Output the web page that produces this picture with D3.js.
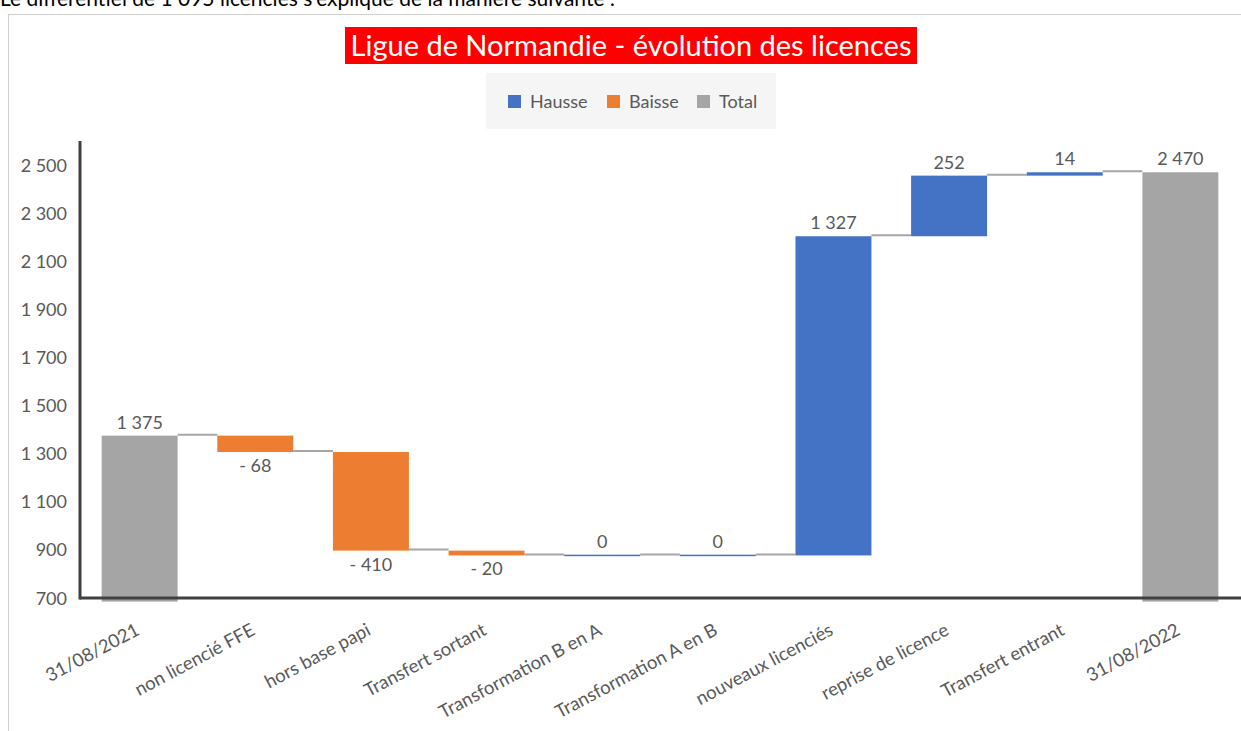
<!DOCTYPE html>
<html lang="fr">
<head>
<meta charset="utf-8">
<title>Ligue de Normandie</title>
<script src="https://cdn.jsdelivr.net/npm/d3@7"></script>
<style>
  html, body { margin: 0; padding: 0; background: #fff; }
  svg { display: block; font-family: Lato, "Open Sans", sans-serif; }
</style>
</head>
<body>
<script>
// data
var categories = ["31/08/2021", "non licencié FFE", "hors base papi", "Transfert sortant",
  "Transformation B en A", "Transformation A en B", "nouveaux licenciés",
  "reprise de licence", "Transfert entrant", "31/08/2022"];
var values = [1375, -68, -410, -20, 0, 0, 1327, 252, 14, 2470];
var kinds = ["Total", "Baisse", "Baisse", "Baisse", "Hausse", "Hausse", "Hausse", "Hausse", "Hausse", "Total"];
var yTicks = [700, 900, 1100, 1300, 1500, 1700, 1900, 2100, 2300, 2500];
var legendItems = ["Hausse", "Baisse", "Total"];

var colors = { Hausse: "#4472C4", Baisse: "#ED7D31", Total: "#A5A5A5" };
var textCol = "#595959";

var W = 1241, H = 731;
var svg = d3.select("body").append("svg").attr("width", W).attr("height", H);

var loc = d3.formatLocale({ decimal: ",", thousands: "\u00a0", grouping: [3], currency: ["", ""] });
var fmt = loc.format(",d");
function label(v) { return v < 0 ? "- " + fmt(-v) : fmt(v); }

// running totals
var rows = [];
var run = 0;
values.forEach(function (v, i) {
  var r = { cat: categories[i], v: v, kind: kinds[i] };
  if (kinds[i] == "Total") { r.start = 685; r.end = v; run = v; }
  else { r.start = run; run = run + v; r.end = run; }
  r.level = run;
  rows.push(r);
});

// cut-off sentence above the chart frame
svg.append("text")
  .attr("x", 0).attr("y", 6)
  .style("font-size", "21px").attr("fill", "#000")
  .text("Le différentiel de 1 095 licenciés s'explique de la manière suivante :");

// chart frame
svg.append("rect")
  .attr("x", 8.5).attr("y", 14.5).attr("width", W + 10).attr("height", H + 10)
  .attr("fill", "#fff").attr("stroke", "#d0d0d0");

// title
svg.append("rect")
  .attr("x", 345).attr("y", 27).attr("width", 572).attr("height", 37)
  .attr("fill", "#FF0000");
svg.append("text")
  .attr("x", 631).attr("y", 56)
  .attr("text-anchor", "middle")
  .style("font-size", "29px").attr("fill", "#fff")
  .text("Ligue de Normandie - évolution des licences");

// legend
svg.append("rect").attr("x", 486).attr("y", 73).attr("width", 290).attr("height", 56).attr("fill", "#f5f5f5");
var lx = [508, 607, 697];
legendItems.forEach(function (k, i) {
  svg.append("rect").attr("x", lx[i]).attr("y", 95).attr("width", 13).attr("height", 13).attr("fill", colors[k]);
  svg.append("text").attr("x", lx[i] + 22).attr("y", 108)
    .style("font-size", "18px").attr("fill", textCol).text(k);
});

// scales
var x = d3.scaleBand().domain(categories).range([82, 1238]).paddingInner(0.343).paddingOuter(0.17);
var y = d3.scaleLinear().domain([700, 2600]).range([598, 141]);

// y tick labels
svg.append("g").selectAll("text").data(yTicks).enter().append("text")
  .attr("x", 67).attr("y", function (d) { return y(d) + 6.5; })
  .attr("text-anchor", "end")
  .style("font-size", "18px").attr("fill", textCol)
  .text(function (d) { return fmt(d); });

// connectors
svg.append("g").selectAll("line").data(rows.slice(0, -1)).enter().append("line")
  .attr("x1", function (d) { return x(d.cat) + x.bandwidth(); })
  .attr("x2", function (d, i) { return x(categories[i + 1]); })
  .attr("y1", function (d) { return y(d.level) - 1; })
  .attr("y2", function (d) { return y(d.level) - 1; })
  .attr("stroke", "#a6a6a6").attr("stroke-width", 2);

// bars
svg.append("g").selectAll("rect").data(rows).enter().append("rect")
  .attr("x", function (d) { return x(d.cat); })
  .attr("width", x.bandwidth())
  .attr("y", function (d) { return y(Math.max(d.start, d.end)) - (d.v == 0 ? 0.75 : 0); })
  .attr("height", function (d) { return Math.max(1.5, Math.abs(y(d.start) - y(d.end))); })
  .attr("fill", function (d) { return colors[d.kind]; });

// value labels
svg.append("g").selectAll("text").data(rows).enter().append("text")
  .attr("x", function (d) { return x(d.cat) + x.bandwidth() / 2; })
  .attr("y", function (d) {
    if (d.v < 0) return y(Math.min(d.start, d.end)) + 20;
    return y(Math.max(d.start, d.end)) - 7;
  })
  .attr("text-anchor", "middle")
  .style("font-size", "18px").attr("fill", textCol)
  .text(function (d) { return label(d.v); });

// axes lines
svg.append("line").attr("x1", 80).attr("x2", 1241).attr("y1", 598).attr("y2", 598)
  .attr("stroke", "#404040").attr("stroke-width", 3);
svg.append("line").attr("x1", 80).attr("x2", 80).attr("y1", 141).attr("y2", 599.5)
  .attr("stroke", "#404040").attr("stroke-width", 3);

// category labels
svg.append("g").selectAll("text").data(categories).enter().append("text")
  .attr("transform", function (d) {
    return "translate(" + (x(d) + x.bandwidth() / 2 + 1) + ",634) rotate(-28)";
  })
  .attr("text-anchor", "end")
  .style("font-size", "18.5px").attr("fill", textCol)
  .text(function (d) { return d; });
</script>
</body>
</html>
